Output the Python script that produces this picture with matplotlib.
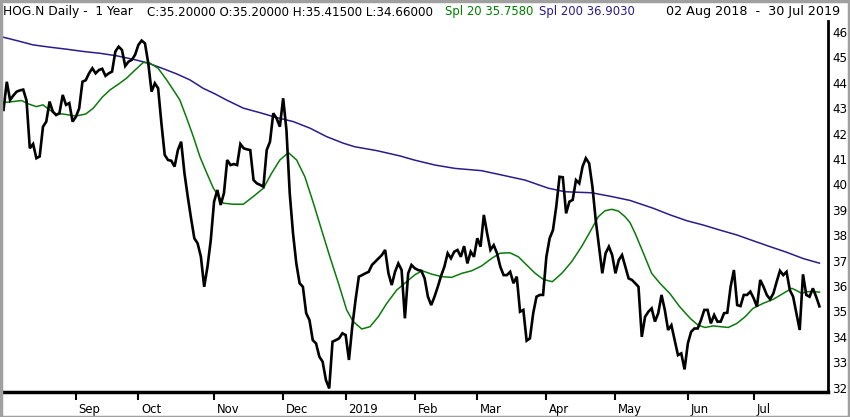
import matplotlib
matplotlib.use("Agg")
import matplotlib.pyplot as plt
from matplotlib.transforms import ScaledTranslation
from matplotlib.patches import Rectangle

# ---------------- data ----------------
# daily closes, trading-day index 0 = 02 Aug 2018 ... 248 = 30 Jul 2019
close = [
    42.93, 44.04, 43.32, 43.50, 43.65, 43.70, 43.73, 43.30, 41.42, 41.59,
    41.03, 41.10, 42.27, 42.47, 43.26, 42.86, 42.73, 42.80, 43.52, 43.13,
    43.20, 42.47, 42.66, 42.99, 44.04, 44.10, 44.37, 44.57, 44.37, 44.50,
    44.55, 44.27, 44.37, 44.44, 45.23, 45.42, 45.29, 44.66, 44.83, 44.90,
    45.10, 45.49, 45.66, 45.55, 44.77, 43.65, 43.98, 43.78, 42.40, 41.16,
    40.96, 40.93, 40.70, 41.35, 41.68, 40.44, 39.52, 38.67, 37.88, 37.68,
    37.15, 35.97, 36.76, 37.81, 39.32, 39.78, 39.19, 39.65, 40.96, 40.76,
    40.80, 40.76, 41.59, 41.42, 41.38, 41.35, 40.17, 40.04, 39.98, 39.91,
    41.35, 41.68, 42.80, 42.60, 42.27, 43.39, 42.14, 39.65, 38.07, 36.89,
    36.11, 35.97, 34.93, 34.66, 33.87, 33.74, 33.22, 33.02, 32.30, 31.97,
    33.81, 33.87, 33.94, 34.14, 34.07, 33.09, 34.40, 35.45, 36.37, 36.43,
    36.50, 36.56, 36.83, 36.96, 37.09, 37.22, 37.42, 36.50, 36.04, 36.56,
    36.89, 36.63, 34.73, 36.50, 36.83, 36.70, 36.63, 36.60, 36.30, 35.58,
    35.25, 35.58, 35.97, 36.40, 36.76, 37.29, 37.09, 37.35, 37.42, 37.15,
    37.57, 36.89, 37.35, 37.15, 37.88, 37.55, 38.80, 38.07, 37.42, 37.61,
    37.29, 36.76, 36.43, 36.43, 36.56, 36.11, 36.37, 34.99, 35.06, 33.85,
    33.94, 34.93, 35.58, 35.65, 35.65, 37.15, 37.88, 38.20, 39.12, 40.30,
    40.28, 38.86, 39.32, 39.39, 40.17, 40.04, 40.70, 41.03, 40.83, 39.91,
    38.60, 37.55, 36.50, 37.29, 37.55, 37.22, 36.50, 37.02, 37.22, 36.76,
    36.30, 36.24, 36.11, 35.97, 34.00, 34.79, 34.99, 35.12, 34.60, 34.93,
    35.65, 35.06, 34.27, 34.46, 33.87, 33.28, 33.35, 32.72, 33.74, 34.20,
    34.33, 34.33, 34.66, 35.06, 35.06, 34.53, 34.86, 34.60, 34.60, 34.93,
    34.95, 35.97, 36.63, 35.25, 35.21, 35.65, 35.65, 35.78, 35.52, 35.19,
    36.24, 35.97, 35.65, 35.48, 35.71, 36.17, 36.60, 36.43, 36.56, 35.84,
    35.58, 34.93, 34.27, 36.46, 35.65, 35.58, 35.91, 35.58, 35.20,
]

# Spl 20 (at these trading-day positions)
spl20_day = [0, 3, 5.5, 7.5, 10, 12, 14, 16, 18, 20, 22, 25, 27.3, 30, 32.4, 35,
             37.4, 40, 42.5, 44.5, 47, 49.6, 51.6, 53.6, 55.7, 57.7, 59.7, 61.8,
             63.8, 66.8, 69.8, 72.9, 75.9, 79, 81.5, 84, 86.6, 89.1, 91.6, 94.2,
             96.7, 99.2, 101.8, 104.3, 106.3, 108.9, 111.4, 113.9, 116.5, 119.5,
             122.5, 125.1, 127.3, 130.1, 133.2, 136.2, 139.3, 142.3, 145.3, 148.4,
             150.9, 153.9, 156.5, 159, 161.6, 164.1, 166.8, 169.7, 172.7, 175.7,
             178.3, 180.8, 182.8, 184.9, 186.9, 188.9, 190.4, 192, 194.5, 197,
             199.5, 202.5, 205.5, 208.7, 211.1, 213.2, 215.7, 220.3, 222.9, 225.4,
             227.8, 230.9, 234, 237, 239.6, 241.1, 242.6, 244.1, 246.1, 248]
spl20_val = [43.22, 43.26, 43.30, 43.17, 43.06, 43.13, 42.93, 42.77, 42.77, 42.73,
             42.69, 42.77, 43.00, 43.43, 43.72, 43.95, 44.18, 44.50, 44.80, 44.77,
             44.57, 44.11, 43.72, 43.32, 42.60, 41.88, 41.09, 40.44, 39.85, 39.26,
             39.22, 39.22, 39.52, 39.85, 40.44, 40.96, 41.25, 40.96, 40.30, 39.26,
             38.20, 37.15, 36.11, 35.06, 34.60, 34.31, 34.40, 34.79, 35.32, 35.84,
             36.17, 36.45, 36.60, 36.47, 36.37, 36.34, 36.50, 36.60, 36.79, 37.09,
             37.29, 37.31, 37.15, 36.83, 36.50, 36.26, 36.17, 36.50, 36.96, 37.55,
             38.14, 38.73, 38.96, 39.02, 38.95, 38.73, 38.50, 38.07, 37.29, 36.50,
             36.11, 35.71, 35.19, 34.73, 34.46, 34.37, 34.43, 34.37, 34.53, 34.79,
             35.12, 35.32, 35.48, 35.71, 35.91, 35.82, 35.71, 35.78, 35.78, 35.76]

# Spl 200
spl200_day = [0, 4, 9, 14.1, 19.2, 24.3, 29.3, 34.4, 39.5, 43.5, 47.6, 52.6, 56.7,
              60.7, 64.3, 67.8, 72.9, 78, 83, 88.1, 93.2, 98.2, 103.3, 106.8,
              113.4, 120.5, 125.1, 131.2, 137.2, 145.3, 151.4, 158.5, 165.6,
              170.7, 178.8, 184.9, 190.4, 197.5, 202.6, 207.7, 212.7, 217.8,
              222.9, 227.9, 233, 238, 243.1, 248]
spl200_val = [45.79, 45.66, 45.49, 45.40, 45.32, 45.23, 45.16, 45.06, 44.92, 44.79,
              44.60, 44.35, 44.11, 43.78, 43.56, 43.32, 43.00, 42.82, 42.63, 42.47,
              42.21, 41.88, 41.62, 41.48, 41.33, 41.12, 40.95, 40.76, 40.63, 40.54,
              40.37, 40.17, 39.85, 39.71, 39.67, 39.52, 39.37, 39.06, 38.80, 38.57,
              38.40, 38.20, 38.01, 37.78, 37.55, 37.33, 37.08, 36.90]

month_labels = ["Sep", "Oct", "Nov", "Dec", "2019", "Feb", "Mar", "Apr", "May", "Jun", "Jul"]
month_start_day = [22, 41, 64, 85, 104, 125, 144, 165, 186, 208, 228]
price_ticks = list(range(32, 47))

header_left = "HOG.N Daily -  1 Year"
header_ohlc = "C:35.20000 O:35.20000 H:35.41500 L:34.66000"
header_spl20 = "Spl 20 35.7580"
header_spl200 = "Spl 200 36.9030"
header_range = "02 Aug 2018  -  30 Jul 2019"

# ---------------- figure ----------------
W, H = 850, 417
fig = plt.figure(figsize=(W / 100, H / 100), dpi=100)
fig.patch.set_facecolor("white")

def fx(px):
    return px / W

def fy(py):
    return 1 - py / H

ax = fig.add_axes([fx(3), fy(392), fx(828) - fx(3), fy(21) - fy(392)])
ax.set_facecolor("white")

days = list(range(len(close)))
ax.plot(spl200_day, spl200_val, color="#2e1a8c", lw=1.1, zorder=2)
ax.plot(spl20_day, spl20_val, color="#0a7a0a", lw=1.1, zorder=3)
ax.plot(days, close, color="black", lw=1.9, zorder=4, solid_joinstyle="miter")

ax.set_xlim(-0.15, 250.6)
ax.set_ylim(31.83, 46.43)

for s in ("left", "top"):
    ax.spines[s].set_visible(False)
ax.spines["right"].set_linewidth(2)
ax.spines["bottom"].set_linewidth(2.5)

ax.yaxis.tick_right()
ax.set_yticks(price_ticks)
ax.set_yticklabels([str(v) for v in price_ticks])
ax.tick_params(axis="y", length=0, pad=3, labelsize=8.6, labelcolor="black")

ax.set_xticks(month_start_day)
ax.set_xticklabels(month_labels, ha="left")
ax.tick_params(axis="x", length=6, width=1.5, pad=2, labelsize=8.4, direction="out")
off = ScaledTranslation(2 / 72, 0, fig.dpi_scale_trans)
for lab in ax.xaxis.get_majorticklabels():
    lab.set_transform(lab.get_transform() + off)

# header texts
hy = fy(12)
fig.text(fx(3), hy, header_left, fontsize=8.8, color="black", va="center", ha="left")
fig.text(fx(147), hy, header_ohlc, fontsize=8.6, color="black", va="center", ha="left")
fig.text(fx(445), hy, header_spl20, fontsize=8.4, color="#008000", va="center", ha="left")
fig.text(fx(539), hy, header_spl200, fontsize=8.4, color="#2e1a8c", va="center", ha="left")
fig.text(fx(840), hy, header_range, fontsize=9.2, color="black", va="center", ha="right")

# grey outer frame
fig.patches.append(Rectangle((0.5 / W, 0.5 / H), 1 - 2 / W, 1 - 1.5 / H, transform=fig.transFigure,
                             fill=False, edgecolor="#a0a0a0", lw=2.5))

fig.savefig("out.png", dpi=100, facecolor="white")
